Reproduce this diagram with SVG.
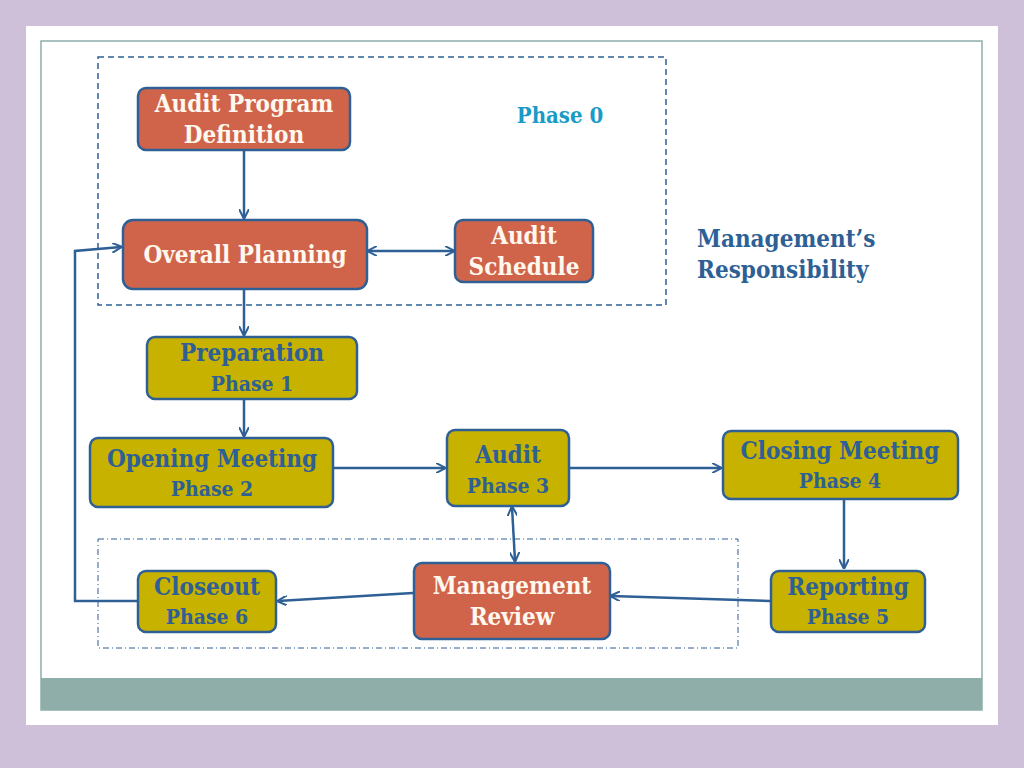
<svg xmlns="http://www.w3.org/2000/svg" width="1024" height="768" viewBox="0 0 1024 768">
<style>
.o{fill:#d0644a;stroke:#2e5f95;stroke-width:2.5}
.y{fill:#c8b200;stroke:#2e5f95;stroke-width:2.5}
text{font-family:"DejaVu Serif Condensed","DejaVu Serif",serif;font-weight:bold;font-size:24px;text-anchor:middle}
.w{fill:#fff8ee}
.b{fill:#2e5f95}
.c{stroke:#2e5f95;stroke-width:2.5;fill:none}
</style>
<defs><marker id="a" viewBox="0 0 10 10" refX="9" refY="5" markerWidth="4" markerHeight="4" orient="auto-start-reverse"><path d="M0,0L10,5L0,10" fill="none" stroke="#2e5f95" stroke-width="2"/></marker></defs>
<rect width="1024" height="768" fill="#cfc0d9"/>
<rect x="26" y="26" width="972" height="699" fill="#fff"/>
<rect x="41" y="41" width="941" height="669" fill="#fff" stroke="#8faeaa" stroke-width="1.5"/>
<rect x="41" y="678" width="941" height="32" fill="#8faeaa"/>
<rect x="98" y="57" width="568" height="248" fill="none" stroke="#2e5f95" stroke-width="1.5" stroke-dasharray="6,4"/>
<rect x="98" y="539" width="640" height="109" fill="none" stroke="#2e5f95" stroke-width="1" stroke-dasharray="6,3,1,3"/>
<text x="560" y="123" style="fill:#1a9bc6;font-size:22px">Phase 0</text>
<text x="797" y="247" class="b" style="text-anchor:start" x2="0"><tspan x="697">Management’s</tspan><tspan x="697" dy="31">Responsibility</tspan></text>
<g id="connectors" class="c">
<line x1="244" y1="150" x2="244" y2="218" marker-end="url(#a)"/>
<line x1="244" y1="275" x2="244" y2="335" marker-end="url(#a)"/>
<line x1="368" y1="251" x2="454" y2="251" marker-start="url(#a)" marker-end="url(#a)"/>
<line x1="244" y1="400" x2="244" y2="436" marker-end="url(#a)"/>
<line x1="334" y1="468" x2="445" y2="468" marker-end="url(#a)"/>
<line x1="570" y1="468" x2="721" y2="468" marker-end="url(#a)"/>
<line x1="844" y1="500" x2="844" y2="568" marker-end="url(#a)"/>
<line x1="770" y1="601" x2="611" y2="596" marker-end="url(#a)"/>
<line x1="413" y1="593" x2="278" y2="601" marker-end="url(#a)"/>
<line x1="512" y1="507" x2="515" y2="561" marker-start="url(#a)" marker-end="url(#a)"/>
<polyline points="137,601 75,601 75,251 121,247" marker-end="url(#a)"/>
</g>
<g id="n1"><rect class="o" x="138" y="88" width="212" height="62" rx="8"/><text class="w" x="244" y="112">Audit Program</text><text class="w" x="244" y="143">Definition</text></g>
<g id="n2"><rect class="o" x="123" y="220" width="244" height="69" rx="10"/><text class="w" x="245" y="263">Overall Planning</text></g>
<g id="n3"><rect class="o" x="455" y="220" width="138" height="62" rx="8"/><text class="w" x="524" y="244">Audit</text><text class="w" x="524" y="275">Schedule</text></g>
<g id="n4"><rect class="y" x="147" y="337" width="210" height="62" rx="8"/><text class="b" x="252" y="361">Preparation</text><text class="b" x="252" y="391" style="font-size:21px">Phase 1</text></g>
<g id="n5"><rect class="y" x="90" y="438" width="243" height="69" rx="8"/><text class="b" x="212" y="467">Opening Meeting</text><text class="b" x="212" y="496" style="font-size:21px">Phase 2</text></g>
<g id="n6"><rect class="y" x="447" y="430" width="122" height="76" rx="8"/><text class="b" x="508" y="463">Audit</text><text class="b" x="508" y="493" style="font-size:21px">Phase 3</text></g>
<g id="n7"><rect class="y" x="723" y="431" width="235" height="68" rx="8"/><text class="b" x="840" y="459">Closing Meeting</text><text class="b" x="840" y="488" style="font-size:21px">Phase 4</text></g>
<g id="n8"><rect class="y" x="771" y="571" width="154" height="61" rx="8"/><text class="b" x="848" y="595">Reporting</text><text class="b" x="848" y="624" style="font-size:21px">Phase 5</text></g>
<g id="n9"><rect class="o" x="414" y="563" width="196" height="76" rx="8"/><text class="w" x="512" y="594">Management</text><text class="w" x="512" y="625">Review</text></g>
<g id="n10"><rect class="y" x="138" y="571" width="138" height="61" rx="8"/><text class="b" x="207" y="595">Closeout</text><text class="b" x="207" y="624" style="font-size:21px">Phase 6</text></g>
</svg>
